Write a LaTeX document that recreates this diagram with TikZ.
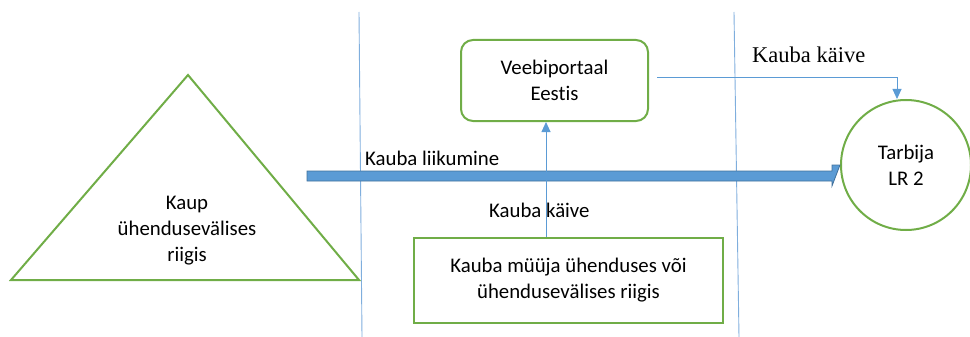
\documentclass[tikz,border=0pt]{standalone}
\usepackage{fontspec}
\setmainfont{Carlito}[Ligatures={NoCommon}]
\newfontfamily\timesf{Liberation Serif}
\usetikzlibrary{arrows.meta}
\definecolor{grn}{HTML}{70AD47}
\definecolor{lblue}{HTML}{5B9BD5}
\definecolor{dblue}{HTML}{41719C}
\definecolor{vline}{HTML}{7FAEDD}
\tikzset{
  box/.style={draw=grn, line width=2pt, align=center, inner sep=0pt},
  lbl/.style={inner sep=0pt, anchor=base west},
  thinarrow/.style={draw=lblue, line width=0.9pt, -{Triangle[length=10pt,width=9pt]}},
  sep/.style={draw=vline, line width=0.9pt}
}
\begin{document}
\begin{tikzpicture}[x=1pt,y=-1pt,font=\fontsize{20.8}{26}\selectfont]
\useasboundingbox (0,0) rectangle (970,337);
% separator lines
\draw[sep] (359,12) -- (362,337);
\draw[sep] (734,12) -- (739,337);
% triangle
\draw[grn, line width=2pt, line join=miter] (11,280) -- (188,75) -- (359,280) -- cycle;
\node[align=center, inner sep=0pt] (kaup) at (187,231) {Kaup\\ühendusevälises\\riigis};
% nodes
\node[box, rounded corners=12pt, minimum width=187pt, minimum height=81pt] (vp) at (554.5,80.5) {Veebiportaal\\Eestis};
\node[box, minimum width=309pt, minimum height=85pt] (seller) at (568.5,280.5) {Kauba müüja ühenduses või\\ühendusevälises riigis};
\node[box, circle, minimum size=130pt] (tarb) at (906,165) {Tarbija\\LR 2};
% thick arrow
\fill[lblue, draw=dblue, line width=0.8pt] (307,171) -- (832,171) -- (832,165) -- (tarb.west) -- (832,186) -- (832,181) -- (307,181) -- cycle;
\node[lbl] (liik) at (365,165) {Kauba liikumine};
% seller -> portal
\coordinate (kv) at (546,0);
\draw[thinarrow] (seller.north -| kv) -- (vp.south -| kv);
\node[lbl] (kk1) at (489,217) {Kauba käive};
% portal -> consumer
\coordinate (ps) at (657,77);
\coordinate (tx) at (897,0);
\draw[thinarrow] (ps) -| (tarb.north -| tx);
\node[lbl, font=\timesf\fontsize{22.5}{26}\selectfont] (kk2) at (752,63) {Kauba käive};
\end{tikzpicture}
\end{document}
